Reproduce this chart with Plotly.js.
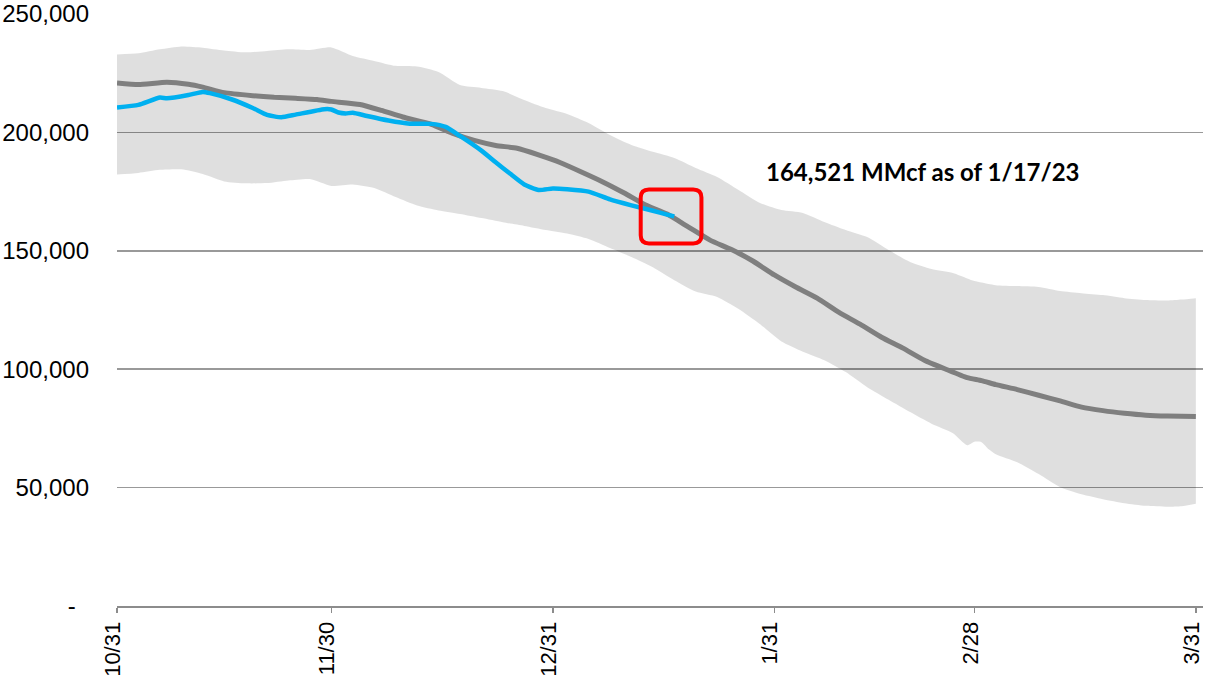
<!DOCTYPE html>
<html>
<head>
<meta charset="utf-8">
<script src="https://cdn.plot.ly/plotly-3.0.1.min.js"></script>
<style>
  html, body { margin: 0; padding: 0; background: #fff; }
  #chart { width: 1205px; height: 678px; }
</style>
</head>
<body>
<div id="chart"></div>
<script>
// ---- data (x values are days after 10/31/2022) ----
const tickDates  = ["2022-10-31", "2022-11-30", "2022-12-31", "2023-01-31", "2023-02-28", "2023-03-31"];
const tickLabels = ["10/31", "11/30", "12/31", "1/31", "2/28", "3/31"];

const yTickVals   = [0, 50000, 100000, 150000, 200000, 250000];
const yTickLabels = ["-\u00a0\u00a0", "50,000", "100,000", "150,000", "200,000", "250,000"];

// 5-year range band
const bandDays = [0,3,6,9,12,15,18,21,24,27,30,33,36,39,42,45,48,51,54,57,60,63,66,69,72,75,78,81,84,87,90,93,96,99,102,105,108,111,114,117,119,120,121,122,123,126,129,132,135,138,141,144,147,149,151];
const bandMax = [232900,233400,235100,236300,235800,234600,233800,234400,235100,234800,
                 235900,232300,230200,228100,227800,225500,220000,218800,217500,213700,
                 210300,207800,204000,198900,194700,191800,189200,185000,181200,175700,
                 170200,167200,166000,162200,158800,155800,150300,145300,142300,140600,
                 138300,137200,136600,136000,
                 135500,135100,134700,133000,132100,131300,130000,129200,129000,
                 129400,130000];
const bandMin = [182200,182900,184200,184400,182400,179300,178500,178600,179700,180300,
                 177400,178000,176500,172700,169100,167000,165500,163800,162100,160500,
                 158800,157300,155000,151200,147400,143100,137600,132800,130500,125400,
                 119000,111700,107400,103800,98800,92400,87100,81900,77000,73000,
                 67900,69400,69200,66200,
                 64100,60700,55700,50200,47200,45100,43400,42300,41900,
                 42100,43200];

// 5-year average
const avgDays = [0,3,7,10,12,15,19,22,25,28,30,34,37,40,44,47,50,53,56,59,62,65,68,71,74,77,80,83,86,89,92,95,98,101,104,107,110,113,116,119,121,123,126,129,132,135,138,141,144,147,151];
const avgVals = [220900,220200,221200,220300,219100,216800,215500,214800,214400,213900,
                 213100,211800,209300,206500,203400,199600,196600,194500,193300,190500,
                 187300,183300,179100,174400,169300,165500,160000,154500,150500,145700,
                 139800,134700,130000,124100,119000,113500,108900,103800,100000,96400,
                 95200,93500,91400,89000,86600,84000,82500,81400,80600,80200,
                 80000];

// current season
const curDays = [0,3,6,7,10,12,13,16,19,21,23,25,29,30,31,32,33,35,38,41,44,46,48,51,53,55,57,59,61,63,66,69,72,75,77,78];
const curVals = [210500,211600,214700,214400,215800,217100,216600,214000,210300,207400,
                 206400,207500,209800,209700,208400,208000,208300,206900,205000,203700,
                 203600,202300,198500,192300,187400,182600,178000,175700,176300,176000,
                 175000,171700,169200,166900,165300,164521];
const asOfLabel = "1/17/23";

// ---- helpers ----
const t0 = Date.parse(tickDates[0]);
const tickDays = tickDates.map(d => Math.round((Date.parse(d) - t0) / 864e5));
const fmt = v => v.toLocaleString("en-US");

const traces = [
  { x: bandDays, y: bandMin, type: "scatter", mode: "lines",
    line: { width: 0, shape: "spline", smoothing: 0.6 }, hoverinfo: "skip", showlegend: false },
  { x: bandDays, y: bandMax, type: "scatter", mode: "lines", fill: "tonexty",
    fillcolor: "rgba(0,0,0,0.125)",
    line: { width: 0, shape: "spline", smoothing: 0.6 }, hoverinfo: "skip", showlegend: false },
  { x: avgDays, y: avgVals, type: "scatter", mode: "lines",
    line: { color: "#7f7f7f", width: 5, shape: "spline", smoothing: 0.5 }, showlegend: false },
  { x: curDays, y: curVals, type: "scatter", mode: "lines",
    line: { color: "#00b0f0", width: 4.5, shape: "spline", smoothing: 0.5 }, showlegend: false }
];

// red highlight box around the latest point
const lastDay = curDays[curDays.length - 1];
const lastVal = curVals[curVals.length - 1];
const cx = lastDay - 0.45, cy = lastVal;
const hw = 4.25, hh = 11400, rx = 1.15, ry = 3400;
const x0 = cx - hw, x1 = cx + hw, y0 = cy - hh, y1 = cy + hh;
const boxPath =
  `M${x0 + rx},${y1} L${x1 - rx},${y1} Q${x1},${y1} ${x1},${y1 - ry} ` +
  `L${x1},${y0 + ry} Q${x1},${y0} ${x1 - rx},${y0} ` +
  `L${x0 + rx},${y0} Q${x0},${y0} ${x0},${y0 + ry} ` +
  `L${x0},${y1 - ry} Q${x0},${y1} ${x0 + rx},${y1} Z`;

const layout = {
  width: 1205, height: 678,
  margin: { l: 117, r: 2, t: 14, b: 72, pad: 0 },
  paper_bgcolor: "#ffffff", plot_bgcolor: "#ffffff",
  showlegend: false,
  font: { family: "Liberation Sans, Arial, sans-serif", color: "#000" },
  xaxis: {
    range: [0, 152], tickvals: tickDays, ticktext: tickLabels, tickangle: -90,
    ticks: "outside", ticklen: 5, tickwidth: 1.5, tickcolor: "#8c8c8c",
    showline: true, linecolor: "#8c8c8c", linewidth: 2,
    showgrid: false, zeroline: false,
    ticklabeloverflow: "allow",
    ticklabelshift: -4,
    tickfont: { family: "Liberation Sans, Arial, sans-serif", size: 22, color: "#000" },
    fixedrange: true
  },
  yaxis: {
    range: [0, 250000], tickvals: yTickVals, ticktext: yTickLabels,
    showgrid: true, gridcolor: "#999999", gridwidth: 1.5,
    zeroline: false, showline: false, ticks: "",
    ticklabelstandoff: 27,
    tickfont: { family: "Liberation Sans, Arial, sans-serif", size: 24, color: "#000" },
    fixedrange: true
  },
  shapes: [{
    type: "path", xref: "x", yref: "y", path: boxPath,
    line: { color: "#ff0000", width: 4 }, fillcolor: "rgba(0,0,0,0)", layer: "above"
  }],
  annotations: [{
    x: 112.8, y: 183700, xref: "x", yref: "y",
    text: `<b>${fmt(lastVal)} MMcf as of ${asOfLabel}</b>`,
    showarrow: false, xanchor: "center", yanchor: "middle",
    font: { family: "Lato, Carlito, Calibri, sans-serif", size: 24, color: "#000" }
  }]
};

Plotly.newPlot("chart", traces, layout, { displayModeBar: false, staticPlot: true });
</script>
</body>
</html>
